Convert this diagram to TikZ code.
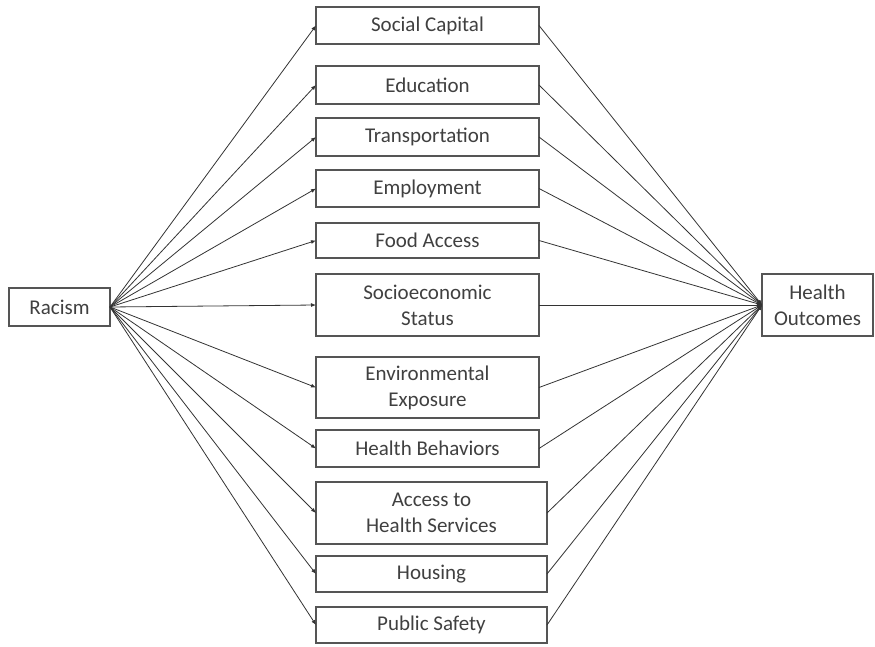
\documentclass[tikz,border=0pt]{standalone}
\usepackage{fontspec}
\setmainfont{Carlito}
\usetikzlibrary{arrows.meta}
\definecolor{txt}{HTML}{404040}
\definecolor{edge}{HTML}{555555}
\tikzset{
  box/.style={draw=edge, line width=1.2pt, fill=white, align=center, text=txt,
    font=\fontsize{21}{26}\selectfont, inner sep=0pt, outer sep=0pt},
  link/.style={draw=black!80, line width=0.8pt, -{Latex[length=5pt,width=4pt]}}
}
\begin{document}
\begin{tikzpicture}[x=1pt,y=-1pt]
\useasboundingbox (0,0) rectangle (875,647);
\node[box, minimum width=101pt, minimum height=38pt] (rac) at (59.5,307) {Racism};
\node[box, minimum width=111pt, minimum height=62pt] (out) at (817.5,305) {Health\\Outcomes};
\node[box, minimum width=223pt, minimum height=37pt] (sc) at (427.5,25.5) {Social Capital};
\node[box, minimum width=223pt, minimum height=38pt] (ed) at (427.5,85) {Education};
\node[box, minimum width=223pt, minimum height=38pt] (tr) at (427.5,137) {Transportation};
\node[box, minimum width=223pt, minimum height=37pt] (em) at (427.5,188.5) {Employment};
\node[box, minimum width=223pt, minimum height=35pt] (fa) at (427.5,240.5) {Food Access};
\node[box, minimum width=223pt, minimum height=62pt] (se) at (427.5,305) {Socioeconomic\\Status};
\node[box, minimum width=223pt, minimum height=61pt] (en) at (427.5,387.5) {Environmental\\Exposure};
\node[box, minimum width=223pt, minimum height=37pt] (hb) at (427.5,448.5) {Health Behaviors};
\node[box, minimum width=231pt, minimum height=62pt] (ah) at (431.5,513) {Access to\\Health Services};
\node[box, minimum width=231pt, minimum height=36pt] (hs) at (431.5,574) {Housing};
\node[box, minimum width=231pt, minimum height=36pt] (ps) at (431.5,625) {Public Safety};
\foreach \n in {sc,ed,tr,em,fa,se,en,hb,ah,hs,ps}{
  \draw[link] (rac.east) -- (\n.west);
  \draw[link] (\n.east) -- (out.west);
}
\end{tikzpicture}
\end{document}
